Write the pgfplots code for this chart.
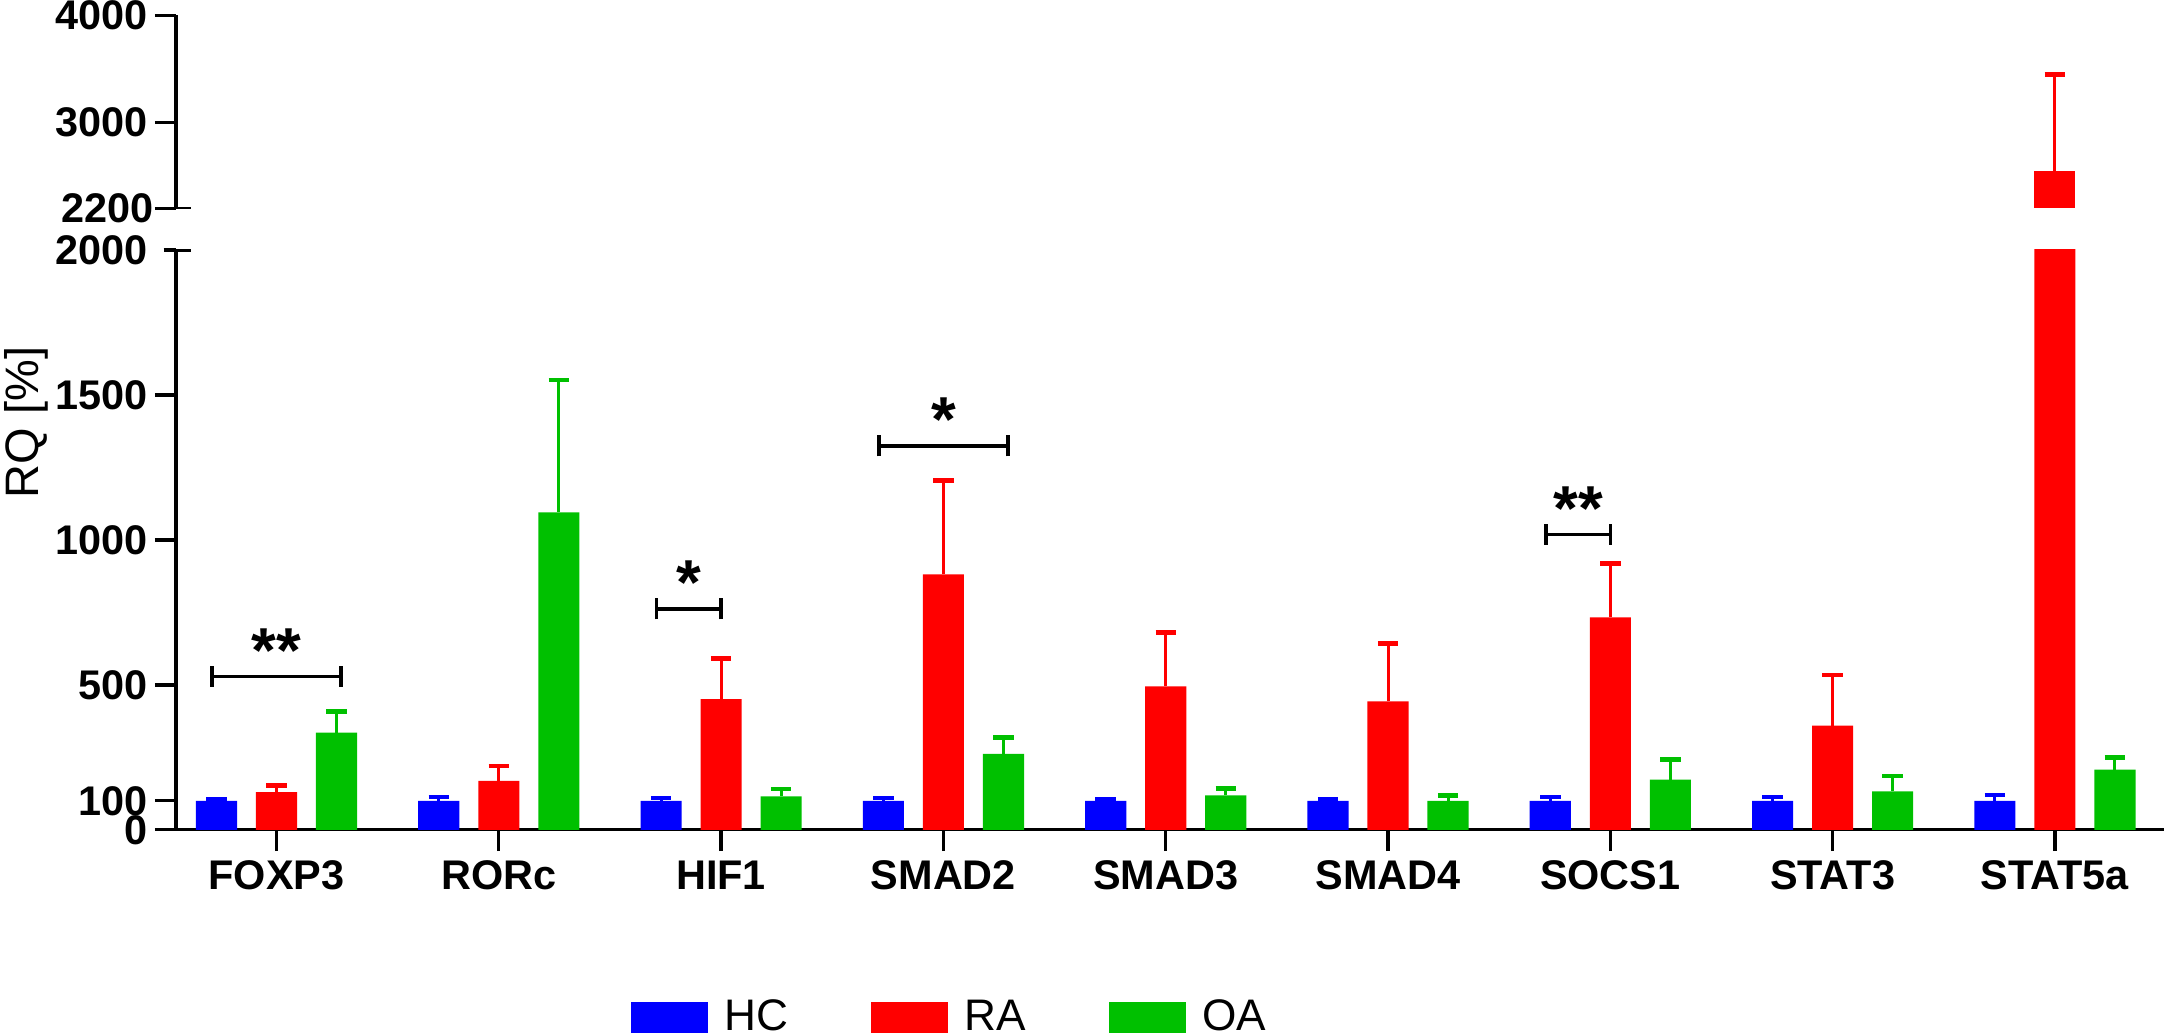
\documentclass[border=0pt]{standalone}
\usepackage{fontspec}
\setmainfont{Liberation Sans}
\usepackage{pgfplots}
\usepackage{pgfplotstable}
\pgfplotsset{compat=1.18}
\definecolor{cHC}{RGB}{0,0,255}
\definecolor{cRA}{RGB}{255,0,0}
\definecolor{cOA}{RGB}{0,192,0}

\pgfplotstableread{
g y e
0 100 7
1 100 14
2 100 9
3 100 10
4 100 5
5 100 6
6 100 13
7 100 14
8 100 21
}\hc
\pgfplotstableread{
g y e
0 130 23
1 169 52
2 451 140
3 881 324
4 495 186
5 443 200
6 733 186
7 359 174
8 2547 900
}\ra
\pgfplotstableread{
g y e
0 335 73
1 1095 457
2 115 25
3 262 57
4 119 24
5 100 19
6 173 70
7 133 53
8 208 42
}\oa

\pgfplotsset{
  mybar/.style={ybar, bar width=0.185, bar shift=0pt, fill=#1, draw=none, forget plot,
    error bars/.cd, y dir=plus, y explicit,
    error bar style={draw=#1, line width=1.1pt},
    error mark options={draw=#1, rotate=90, mark size=3.7pt, line width=1.6pt}},
  common/.style={scale only axis, width=719.75pt, xmin=-0.452, xmax=8.489,
    anchor=south west, tick align=outside, major tick length=7.7pt,
    tick style={black, line width=1.2pt}, axis line style={-, line width=1.2pt},
    /pgf/number format/assume math mode=true,
    /pgf/number format/1000 sep={},
    yticklabel style={font=\bfseries\fontsize{15}{15}\selectfont, inner xsep=2.5pt},
    xticklabel style={font=\bfseries\fontsize{15}{15}\selectfont},
    clip=true},
}

\newcommand{\sigbar}[5]{%
  \draw[line width=1.2pt] (axis cs:#1,#3) -- (axis cs:#2,#3);
  \draw[line width=1.2pt] ([yshift=-3.8pt]axis cs:#1,#3) -- ([yshift=3.8pt]axis cs:#1,#3);
  \draw[line width=1.2pt] ([yshift=-3.8pt]axis cs:#2,#3) -- ([yshift=3.8pt]axis cs:#2,#3);
  \node[font=\bfseries\fontsize{23}{23}\selectfont, anchor=base, inner sep=0pt] at ([yshift=1.5pt]axis cs:#4,#3) {#5};
}

\begin{document}
\begin{tikzpicture}
% lower segment
\begin{axis}[common, at={(0pt,0pt)}, height=210pt,
  ymin=0, ymax=2000,
  axis x line*=bottom, axis y line*=left,
  ytick={0,100,500,1000,1500},
  extra y ticks={2000},
  extra y tick style={major tick length=4.5pt, yticklabel style={xshift=-3.2pt}},
  xtick={0,1,2,3,4,5,6,7,8},
  xticklabels={FOXP3,RORc,HIF1,SMAD2,SMAD3,SMAD4,SOCS1,STAT3,STAT5a},
  legend style={at={(0.39,0)}, anchor=center, yshift=-68pt, draw=none, fill=none,
    legend columns=3, font=\fontsize{16}{16}\selectfont,
    /tikz/every odd column/.append style={column sep=4pt},
    /tikz/every even column/.append style={column sep=28pt}},
  legend cell align=left,
]
\addplot[mybar=cHC] table[x expr=\thisrow{g}-0.27, y=y, y error=e]{\hc};
\addplot[mybar=cRA] table[x=g, y=y, y error=e]{\ra};
\addplot[mybar=cOA] table[x expr=\thisrow{g}+0.27, y=y, y error=e]{\oa};
\addlegendimage{legend image code/.code={\fill[cHC] (0pt,-5.5pt) rectangle (27.5pt,5.5pt);}}
\addlegendentry{HC}
\addlegendimage{legend image code/.code={\fill[cRA] (0pt,-5.5pt) rectangle (27.5pt,5.5pt);}}
\addlegendentry{RA}
\addlegendimage{legend image code/.code={\fill[cOA] (0pt,-5.5pt) rectangle (27.5pt,5.5pt);}}
\addlegendentry{OA}
\sigbar{-0.29}{0.29}{529}{0}{**}
\sigbar{1.71}{2.0}{762}{1.855}{*}
\sigbar{2.71}{3.29}{1324}{3}{*}
\sigbar{5.71}{6.0}{1019}{5.855}{**}
\draw[line width=1.2pt] (rel axis cs:0,1) -- ([xshift=5.5pt]rel axis cs:0,1);
\end{axis}
% upper segment
\begin{axis}[common, at={(0pt,225pt)}, height=70pt,
  ymin=2200, ymax=4000,
  axis x line=none, axis y line*=left,
  ytick={3000,4000}, xtick=\empty,
  extra y ticks={2200},
  extra y tick style={yticklabel style={xshift=2.4pt}},
]
\addplot[restrict y to domain=2200:5000, mybar=cRA] table[x=g, y=y, y error=e]{\ra};
\draw[line width=1.2pt] (rel axis cs:0,0) -- ([xshift=5.5pt]rel axis cs:0,0);
\end{axis}
\node[rotate=90, font=\fontsize{17}{17}\selectfont] at (-54.25pt,147.5pt) {RQ [\%]};
\pgfresetboundingbox
\path[use as bounding box] (-63.75pt,-74pt) rectangle (720.25pt,300.5pt);
\end{tikzpicture}
\end{document}
